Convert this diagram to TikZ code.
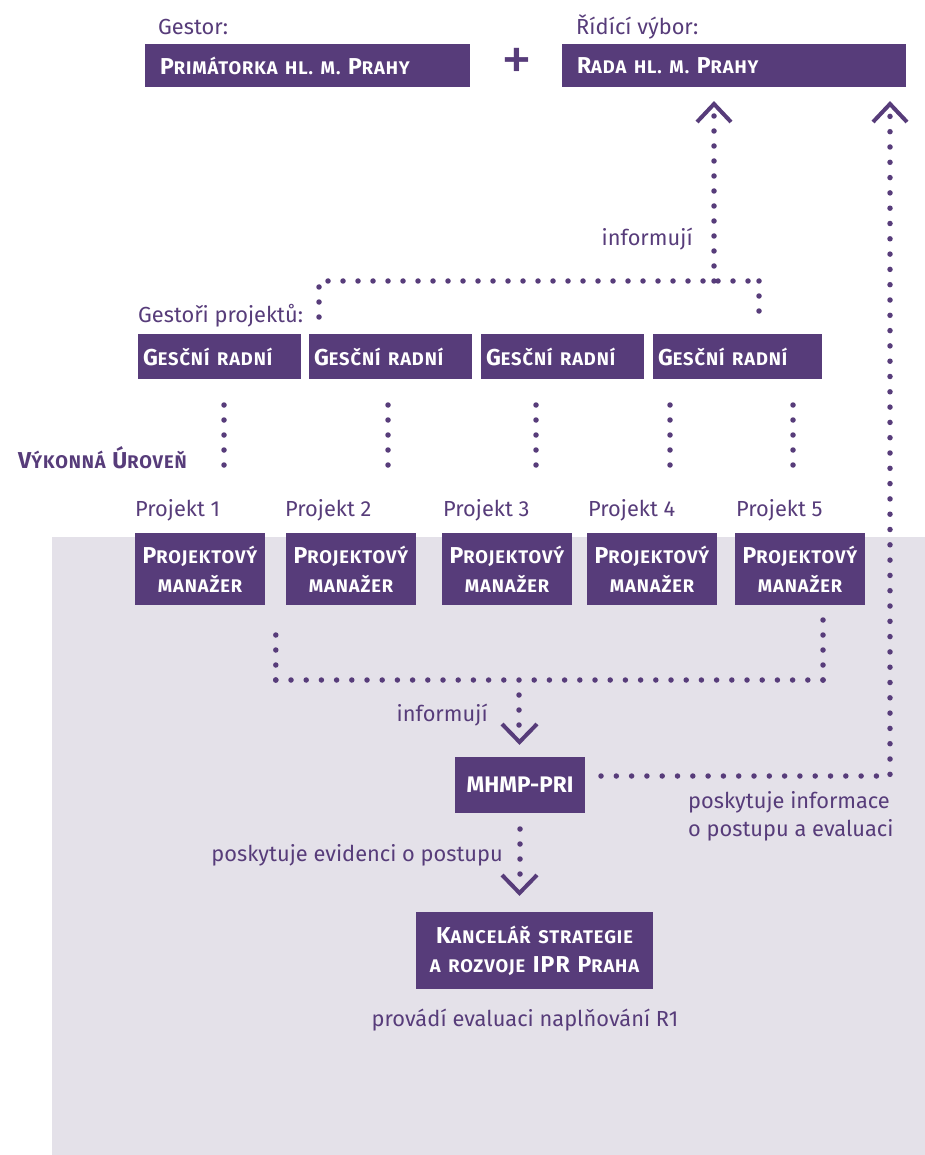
\documentclass[tikz,border=0pt]{standalone}
\usepackage{fontspec}
\setmainfont{Fira Sans}
\newfontfamily\scfont{Fira Sans}[LetterSpace=5.0]
\usetikzlibrary{calc}
\definecolor{pur}{RGB}{87,60,122}
\definecolor{bgg}{RGB}{228,225,233}
\newcommand\lo[1]{{\fontsize{18.3}{18.3}\selectfont #1}}
\tikzset{
  box/.style={fill=pur, text=white, inner ysep=0pt, font=\scfont\bfseries\fontsize{23}{29}\selectfont},
  lbox/.style={box, align=left},
  gbox/.style={box, align=left, inner xsep=5pt, minimum height=45pt},
  pbox/.style={box, align=center, inner xsep=0pt, text width=130pt, minimum height=72pt},
  lbl/.style={text=pur, inner sep=0pt, font=\fontsize{21.8}{28}\selectfont},
  dots/.style={draw=pur, line width=5.5pt, line cap=round, dash pattern=on 0pt off 15pt},
  chev/.style={draw=pur, line width=4pt, line join=miter},
}
\begin{document}
\begin{tikzpicture}[x=1pt,y=-1pt]
\useasboundingbox (0,0) rectangle (925,1155);
\fill[white] (0,0) rectangle (925,1155);
\fill[bgg] (52,537) rectangle (925,1155);

% top level
\node[lbl, anchor=west] (gestorlbl) at (158,27) {Gestor:};
\node[lbl, anchor=west] (ridlbl) at (576,27) {Řídící výbor:};
\node[lbox, inner xsep=15pt, text width=295pt, minimum height=43pt] (prim) at (307.5,65.5) {P\lo{RIMÁTORKA HL. M. }P\lo{RAHY}};
\node[lbox, inner xsep=15pt, text width=314pt, minimum height=43pt] (rada) at (734,65.5) {R\lo{ADA HL. M. }P\lo{RAHY}};
\node[text=pur, inner sep=0pt, font=\fontsize{62}{62}\selectfont] (plus) at (516.5,64) {+};

% gestori projektu
\node[lbl, anchor=west] (gpl) at (138,316) {Gestoři projektů:};
\node[gbox, text width=153pt] (g1) at (219.5,356.5) {G\lo{ESČNÍ RADNÍ}};
\node[gbox, text width=153pt] (g2) at (390.5,356.5) {G\lo{ESČNÍ RADNÍ}};
\node[gbox, text width=153pt] (g3) at (562.5,356.5) {G\lo{ESČNÍ RADNÍ}};
\node[gbox, text width=159pt] (g4) at (737.5,356.5) {G\lo{ESČNÍ RADNÍ}};

\node[text=pur, inner sep=0pt, anchor=west, font=\scfont\bfseries\fontsize{23}{24}\selectfont] (vyk) at (18,458) {V\lo{ÝKONNÁ} Ú\lo{ROVEŇ}};

% projects
\node[lbl, anchor=west] (pl1) at (135,510) {Projekt 1};
\node[lbl, anchor=west] (pl2) at (285,510) {Projekt 2};
\node[lbl, anchor=west] (pl3) at (443,510) {Projekt 3};
\node[lbl, anchor=west] (pl4) at (588,510) {Projekt 4};
\node[lbl, anchor=west] (pl5) at (736,510) {Projekt 5};
\node[pbox] (p1) at (200,569) {P\lo{ROJEKTOVÝ}\\\lo{MANAŽER}};
\node[pbox] (p2) at (351,569) {P\lo{ROJEKTOVÝ}\\\lo{MANAŽER}};
\node[pbox] (p3) at (507,569) {P\lo{ROJEKTOVÝ}\\\lo{MANAŽER}};
\node[pbox] (p4) at (652,569) {P\lo{ROJEKTOVÝ}\\\lo{MANAŽER}};
\node[pbox] (p5) at (800,569) {P\lo{ROJEKTOVÝ}\\\lo{MANAŽER}};

% MHMP-PRI
\node[box, align=center, inner xsep=0pt, text width=130pt, minimum height=56pt, font=\bfseries\fontsize{22.5}{24}\selectfont] (mhmp) at (520,785) {MHMP-PRI};
\node[box, align=center, inner xsep=0pt, text width=237pt, minimum height=77pt] (ipr) at (534.5,950.5) {K\lo{ANCELÁŘ STRATEGIE}\\\lo{A ROZVOJE }IPR P\lo{RAHA}};

% labels
\node[lbl, anchor=east] (inf1) at (693,239) {informují};
\node[lbl, anchor=east] (inf2) at (488,715) {informují};
\node[lbl, anchor=north west, align=left] (posinf) at (688,791) {poskytuje informace\\o postupu a evaluaci};
\node[lbl, anchor=east] (posev) at (503,855) {poskytuje evidenci o postupu};
\node[lbl] (prov) at (525,1020) {provádí evaluaci naplňování R1};

% coordinates for connectors
\coordinate (ua) at (319,317);
\coordinate (ub) at (319,281);
\coordinate (uc) at (759,281);
\coordinate (ud) at (759,312);
\coordinate (ue) at (714,281);
\coordinate (uf) at (714,115);

\foreach \i/\x in {1/224,2/388,3/536,4/670,5/793}{
  \coordinate (vt\i) at (\x,405);
  \coordinate (vb\i) at (\x,467);
}

\coordinate (la) at (275.8,635);
\coordinate (lb) at (275.8,680);
\coordinate (lc) at (823,680);
\coordinate (ld) at (823,620);
\coordinate (le) at (519,695);
\coordinate (lf) at (519,728);

\coordinate (ra) at (601,776);
\coordinate (rb) at (890,776);
\coordinate (rc) at (890,115);

\coordinate (ka) at (520,829);
\coordinate (kb) at (520,878);

% dotted connectors
\draw[dots] (ua) -- (ub) -- (uc);
\draw[dots] (uc) -- (ud);
\draw[dots] (ue) -- (uf);
\foreach \i in {1,...,5}{\draw[dots] (vt\i) -- (vb\i);}
\draw[dots] (la) -- (lb);
\draw[dots, dash pattern=on 0pt off 15.2pt] (lc) -- ([xshift=-0.1pt]lb);
\draw[dots] (lc) -- (ld);
\draw[dots] (le) -- (lf);
\draw[dots, dash pattern=on 0pt off 15.3pt] (ra) -- (rb) -- (rc);
\draw[dots] (ka) -- (kb);

% chevrons (arrow heads)
\draw[chev] (697,122) -- (714,104) -- (731,122);
\draw[chev] (873,122) -- (890,104) -- (907,122);
\draw[chev] (502,724) -- (519.5,742) -- (537,724);
\draw[chev] (502,875) -- (519.5,893) -- (537,875);
\end{tikzpicture}
\end{document}
